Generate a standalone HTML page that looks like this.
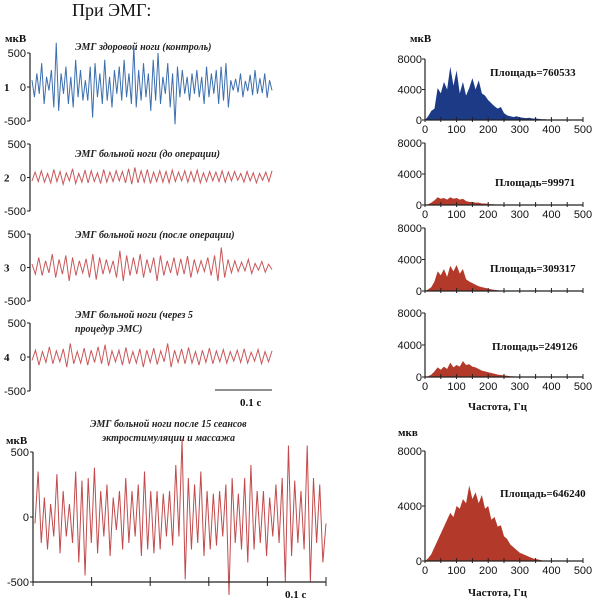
<!DOCTYPE html>
<html><head><meta charset="utf-8">
<style>
body{margin:0;background:#fff;}
svg{display:block;font-family:"Liberation Serif",serif;}
.tk{font-family:"Liberation Sans",sans-serif;font-size:11px;fill:#111;}
.ti{font-style:italic;font-weight:bold;font-size:10px;fill:#222;}
.b{font-weight:bold;font-size:11px;fill:#111;}
</style></head><body>
<svg id="c" width="600" height="602" viewBox="0 0 600 602">
<text x="72" y="16" font-size="18" fill="#111">При ЭМГ:</text>
<text x="5" y="42" class="b">мкВ</text>
<text x="410" y="42" class="b">мкВ</text>
<text x="6" y="444" class="b" font-size="13">мкВ</text>
<text x="398" y="436" class="b">мкв</text>
<text x="75" y="50" class="ti">ЭМГ здоровой ноги (контроль)</text>
<text x="75" y="157" class="ti">ЭМГ больной ноги (до операции)</text>
<text x="75" y="238" class="ti">ЭМГ больной ноги (после операции)</text>
<text x="75" y="318" class="ti">ЭМГ больной ноги (через 5</text>
<text x="75" y="332" class="ti">процедур  ЭМС)</text>
<text x="90" y="427" class="ti" font-size="11">ЭМГ больной ноги после 15 сеансов</text>
<text x="102" y="441" class="ti" font-size="11">эктростимуляции и массажа</text>
<text x="240" y="406" class="b">0.1 с</text>
<text x="285" y="598" class="b">0.1 с</text>
<text x="468" y="410" class="b">Частота, Гц</text>
<text x="468" y="596" class="b">Частота, Гц</text>
</svg>
<script>
const trace1=[100,-150,200,-100,350,-250,150,-50,250,-300,650,-350,200,-100,300,-250,150,-300,400,-150,250,-200,100,-200,300,-450,350,-150,200,-250,400,-200,150,-300,250,-100,300,-200,400,-150,200,-250,600,-300,250,-200,350,-150,200,-350,400,-200,500,-250,150,-100,350,-300,200,-550,300,-150,250,-100,150,-200,200,-100,250,-150,150,-250,300,-150,200,-100,250,-250,300,-200,350,-300,100,-50,120,-80,200,-150,90,-60,180,-120,250,-100,130,-90,200,-160,100,-50];
const trace2=[-50,80,-60,100,-70,60,-80,120,-60,90,-100,70,-50,130,-90,60,-70,110,-80,100,-60,70,-90,120,-70,80,-60,100,-50,90,-80,130,-100,150,-80,100,-70,120,-90,80,-60,100,-70,90,-80,110,-60,80,-50,100,-70,90,-60,110,-80,70,-60,90,-50,80,-60,100,-70,80,-50,90,-40,60,-70,90,-50,70,-80,60,-40,80,-60,100];
const trace3=[50,-100,150,-120,100,-80,200,-150,120,-100,180,-200,150,-120,100,-80,130,-150,200,-180,150,-100,120,-80,100,-150,250,-200,180,-120,150,-100,200,-150,120,-80,150,-200,180,-120,100,-80,150,-120,130,-100,170,-150,120,-80,100,-60,150,-120,180,-200,300,-150,120,-80,100,-60,80,-50,120,-90,60,-40,90,-70,50,-30];
const trace4=[-50,100,-120,80,-80,150,-100,90,-70,120,-150,200,-100,80,-90,130,-120,100,-80,150,-100,180,-130,90,-70,100,-120,140,-100,80,-90,120,-150,100,-80,130,-110,90,-70,200,-150,100,-80,120,-100,140,-90,80,-120,100,-80,130,-100,90,-70,110,-90,80,-60,100,-80,120,-90,70,-60,110,-100,80,-70,90];
const trace5=[-50,350,-200,150,-250,100,-150,330,-280,200,-150,100,-200,350,-350,280,-450,300,-200,380,-280,200,-150,250,-300,150,-100,200,-250,300,-200,200,-150,250,-300,350,-250,200,-280,200,-250,180,-150,200,-220,400,-150,600,-480,300,-250,250,-200,350,-300,200,-250,180,-220,200,-150,250,-600,300,-200,180,-250,300,-350,400,-250,200,-200,200,-300,150,-150,250,-200,300,-500,550,-300,280,-200,200,-250,550,-500,300,-200,250,-350,-50];
const bins=[0,10,20,30,40,50,60,70,80,90,100,110,120,130,140,150,160,170,180,190,200,210,220,230,240,250,260,270,280,290,300,310,320,330,340,350,360,370,380,390,400,410,420,430,440,450,460,470,480,490];
const spec1=[0,500,1200,1500,4200,3500,5000,4000,7000,4500,6500,3500,5000,3200,4200,5500,4000,5200,3500,3200,2600,2200,1800,1500,1700,900,600,500,400,500,350,300,250,300,200,200,150,100,100,50,50,30,20,0,0,0,0,0,0,0];
const spec2=[0,100,300,600,1000,800,900,700,1000,800,900,700,800,500,400,400,300,300,200,200,150,100,80,50,30,20,10,0,0,0,0,0,0,0,0,0,0,0,0,0,0,0,0,0,0,0,0,0,0,0];
const spec3=[0,200,500,1200,2500,2000,2800,1800,3200,2500,3300,2200,2800,1500,1200,1000,800,600,500,400,300,200,150,100,50,30,0,0,0,0,0,0,0,0,0,0,0,0,0,0,0,0,0,0,0,0,0,0,0,0];
const spec4=[0,100,300,700,1200,900,1300,1000,1800,1200,1500,1300,2000,1500,1600,1300,1200,1000,800,700,600,500,400,300,250,200,150,100,80,50,30,0,0,0,0,0,0,0,0,0,0,0,0,0,0,0,0,0,0,0];
const spec5=[0,200,500,1000,1500,2000,2500,3000,3500,3200,4000,3800,4500,4200,5500,4500,5000,4200,4800,3800,4000,3000,3200,2500,2600,1800,1600,1200,1000,800,600,500,400,300,200,150,100,50,30,0,0,0,0,0,0,0,0,0,0,0];
const traceTicks=["500","0","-500"];
const specTicks=["8000","4000","0"];
const freqTicks=["0","100","200","300","400","500"];

const svg=document.getElementById('c');
const NS='http://www.w3.org/2000/svg';
function mk(tag,at){const e=document.createElementNS(NS,tag);for(const k in at)e.setAttribute(k,at[k]);svg.appendChild(e);return e;}

function tracePanel(data,x0,x1,yTop,yBot,color,num,name,fs){
  const y=v=>yTop+(500-v)/1000*(yBot-yTop);
  const x=i=>x0+2+i/(data.length-1)*(x1-x0-2);
  const ax=mk('line',{x1:x0,y1:yTop,x2:x0,y2:yBot,stroke:'#222','stroke-width':1.2});
  
  
  [500,0,-500].forEach((v,i)=>{
    mk('line',{x1:x0-3,y1:y(v),x2:x0,y2:y(v),stroke:'#222'});
    const t=mk('text',{x:x0-4,y:y(v)+4,'text-anchor':'end',class:'tk','font-size':fs});
    t.textContent=traceTicks[i];
    
    
  });
  if(num){const n=mk('text',{x:4,y:y(0)+4,class:'b','font-size':12});n.textContent=num;
    
    }
  const p=mk('polyline',{points:data.map((v,i)=>x(i)+','+y(v)).join(' '),fill:'none',stroke:color,'stroke-width':1});
  
  
}
tracePanel(trace1,30,272,53,121,'#3d6fae','1','trace1',11);
tracePanel(trace2,30,272,144,211,'#c8585a','2','trace2',11);
tracePanel(trace3,30,272,234,301,'#c8585a','3','trace3',11);
tracePanel(trace4,30,272,323,391,'#c8585a','4','trace4',11);
tracePanel(trace5,33,326,452,582,'#c24a4c','','trace5',12);
mk('line',{x1:215,y1:390,x2:272,y2:390,stroke:'#222'});
[[33,326]].forEach(([a,b])=>{mk('line',{x1:a,y1:582,x2:b,y2:582,stroke:'#222','stroke-width':1.2});
  for(let i=0;i<=5;i++){const xx=a+i*(b-a)/5;mk('line',{x1:xx,y1:577,x2:xx,y2:586,stroke:'#222'});}});

function specPanel(data,yTop,yBot,color,label,lx,ly,name,showX,fs){
  const x0=425,x1=583;
  const x=f=>x0+f/500*(x1-x0);
  const y=v=>yBot-v/8000*(yBot-yTop);
  const pts=[x(0)+','+y(0)].concat(data.map((v,i)=>x(bins[i])+','+y(v))).concat([x(bins[bins.length-1])+','+y(0)]);
  const a=mk('polygon',{points:pts.join(' '),fill:color});
  
  
  mk('line',{x1:x0,y1:yTop,x2:x0,y2:yBot,stroke:'#222','stroke-width':1.2});
  mk('line',{x1:x0,y1:yBot,x2:x1,y2:yBot,stroke:'#222','stroke-width':1.2});
  [8000,4000,0].forEach((v,i)=>{
    mk('line',{x1:x0-3,y1:y(v),x2:x0,y2:y(v),stroke:'#222'});
    const t=mk('text',{x:x0-3,y:y(v)+4,'text-anchor':'end',class:'tk','font-size':fs});
    t.textContent=specTicks[i];
    
    
  });
  for(let f=0;f<=500;f+=50){mk('line',{x1:x(f),y1:yBot-3,x2:x(f),y2:yBot+2,stroke:'#222'});}
  if(showX)freqTicks.forEach(s=>{const t=mk('text',{x:x(+s),y:yBot+13,'text-anchor':'middle',class:'tk','font-size':fs});t.textContent=s;
    
    });
  const l=mk('text',{x:lx,y:ly,class:'b'});l.textContent=label;
  
  
}
specPanel(spec1,59,120,'#1c3a86','Площадь=760533',490,76,'spectrum1',true,11);
specPanel(spec2,143,205,'#b33a2a','Площадь=99971',495,186,'spectrum2',true,11);
specPanel(spec3,228,291,'#b33a2a','Площадь=309317',490,272,'spectrum3',false,11);
specPanel(spec4,313,377,'#b33a2a','Площадь=249126',492,350,'spectrum4',true,11);
specPanel(spec5,451,561,'#b33a2a','Площадь=646240',500,497,'spectrum5',true,12);
</script>
</body></html>
